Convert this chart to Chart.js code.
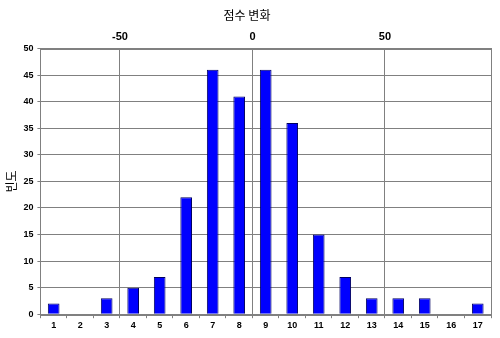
<!DOCTYPE html>
<html>
<head>
<meta charset="utf-8">
<script src="https://cdn.jsdelivr.net/npm/chart.js@4"></script>
<style>
  html, body { margin: 0; padding: 0; background: #fff; }
  #wrap { width: 500px; height: 338px; }
</style>
</head>
<body>
<div id="wrap"><canvas id="c"></canvas></div>
<script>
/* 점수 변화 histogram */
const categories = ['1','2','3','4','5','6','7','8','9','10','11','12','13','14','15','16','17'];
const counts = [2, 0, 3, 5, 7, 22, 46, 41, 46, 36, 15, 7, 3, 3, 3, 0, 2];
const topTicks = [-50, 0, 50];
const topRange = [-80, 90];

const FONT = "'Liberation Sans', Arial, 'Noto Sans CJK KR', sans-serif";
const KFONT = "'Noto Sans CJK KR', 'Liberation Sans', sans-serif";
const GRID = '#808080';

// gray frame around the plot area
const frame = {
  id: 'frame',
  afterDraw(chart) {
    const a = chart.chartArea, ctx = chart.ctx;
    ctx.save();
    ctx.strokeStyle = GRID;
    ctx.lineWidth = 1;
    ctx.strokeRect(Math.round(a.left) + 0.5, Math.round(a.top) + 0.5,
      Math.round(a.right - a.left), Math.round(a.bottom - a.top));
    ctx.restore();
  }
};

new Chart(document.getElementById('c'), {
  type: 'bar',
  data: {
    labels: categories,
    datasets: [{
      data: counts,
      backgroundColor: '#0000ff',
      borderColor: '#000060',
      borderWidth: 1,
      barPercentage: 0.44,
      categoryPercentage: 1,
    }],
  },
  options: {
    responsive: true,
    maintainAspectRatio: false,
    animation: false,
    layout: { padding: { left: 3, right: 9, top: 0, bottom: 5 } },
    plugins: {
      legend: { display: false },
      tooltip: { enabled: false },
      title: {
        display: true,
        text: '점수 변화',
        color: '#000',
        font: { family: KFONT, size: 12, weight: 'normal' },
        padding: { top: 8, bottom: 3 },
      },
    },
    scales: {
      x: {
        position: 'bottom',
        grid: { drawOnChartArea: false, drawTicks: true, tickLength: 4, color: GRID, offset: true },
        border: { color: GRID },
        ticks: { color: '#000', font: { family: FONT, size: 9, weight: 'bold' }, padding: 2, maxRotation: 0 },
      },
      x2: {
        type: 'linear',
        position: 'top',
        offset: false,
        min: topRange[0],
        max: topRange[1],
        afterBuildTicks: s => { s.ticks = topTicks.map(v => ({ value: v })); },
        grid: { color: GRID, drawTicks: false, offset: false },
        border: { color: GRID },
        ticks: { color: '#000', font: { family: FONT, size: 11, weight: 'bold' }, padding: 5 },
      },
      y: {
        min: 0,
        max: 50,
        ticks: { stepSize: 5, color: '#000', font: { family: FONT, size: 9, weight: 'bold' }, padding: 4 },
        grid: { color: GRID, drawTicks: true, tickLength: 3 },
        border: { color: GRID },
        title: {
          display: true,
          text: '빈도',
          color: '#000',
          font: { family: KFONT, size: 12, weight: 'normal' },
          padding: 1,
        },
      },
    },
  },
  plugins: [frame],
});
</script>
</body>
</html>
